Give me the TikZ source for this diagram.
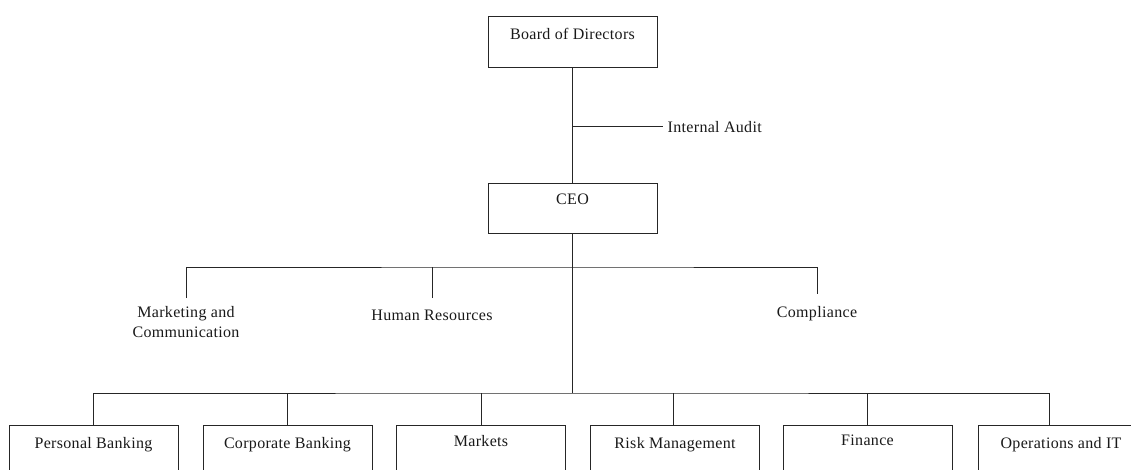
\documentclass[tikz,border=0pt]{standalone}
\usepackage{fontspec}
\setmainfont[LetterSpace=2]{Liberation Serif}
\begin{document}
\begin{tikzpicture}[x=1pt,y=-1pt,
  ln/.style={line width=1pt, draw=black!85},
  box/.style={ln, draw, rectangle, minimum width=169pt, inner sep=0pt},
  topbox/.style={box, minimum height=51pt},
  lowbox/.style={box, minimum height=60pt, anchor=north},
  txt/.style={font=\fontsize{16}{20}\selectfont, inner sep=0pt, text=black!90},
  lbl/.style={txt, inner ysep=12pt, anchor=north, align=center}
]
\useasboundingbox (0,0) rectangle (1131,470);
\clip (0,0) rectangle (1131,470);

% top boxes
\node[topbox] (bod) at (572.5,42.5) {};
\node[txt, anchor=base] (bodt) at (572.5,40) {Board of Directors};
\node[topbox, minimum height=50pt] (ceo) at (572.5,209) {};
\node[txt, anchor=base] (ceot) at (572.5,205) {CEO};

% internal audit
\coordinate (iaj) at (572.5,127);
\node[txt, anchor=west, inner xsep=4.5pt] (audit) at (663,127) {Internal Audit};
\draw[ln] (bod.south) -- (ceo.north);
\draw[ln] (iaj) -- (audit.west);

% middle tier
\coordinate (hub1) at (572.5,267);
\coordinate (hub2) at (572.5,393);
\node[lbl, inner ysep=8pt] (mkt) at (186,298) {Marketing and\\Communication};
\node[lbl] (hr) at (432,298) {Human Resources};
\node[lbl] (comp) at (817,294) {Compliance};
\draw[ln] (ceo.south) -- (hub2);
\draw[ln] (mkt.north) |- (hub1) -| (comp.north);
\draw[ln] (hr.north) -- (hr.north |- hub1);

% bottom boxes
\node[lowbox] (pb) at (93.5,425) {};
\node[lowbox] (cb) at (287.5,425) {};
\node[lowbox] (mk) at (481,425) {};
\node[lowbox] (rm) at (675,425) {};
\node[lowbox] (fi) at (867.5,425) {};
\node[lowbox] (op) at (1062.5,425) {};
\node[txt, anchor=base] (pbt) at (93.5,448.5) {Personal Banking};
\node[txt, anchor=base] (cbt) at (287.5,448) {Corporate Banking};
\node[txt, anchor=base] (mkt2) at (481,446) {Markets};
\node[txt, anchor=base] (rmt) at (675,448.5) {Risk Management};
\node[txt, anchor=base] (fit) at (867.5,445.5) {Finance};
\node[txt, anchor=base] (opt) at (1061,448.5) {Operations and IT};

\coordinate (opd) at (1049,425);
\draw[ln] (pb.north) |- (hub2) -| (opd);
\foreach \b in {cb,mk,fi} \draw[ln] (\b.north) -- (\b.north |- hub2);
\draw[ln] ([xshift=-2pt]rm.north) -- ([xshift=-2pt]rm.north |- hub2);
\end{tikzpicture}
\end{document}
